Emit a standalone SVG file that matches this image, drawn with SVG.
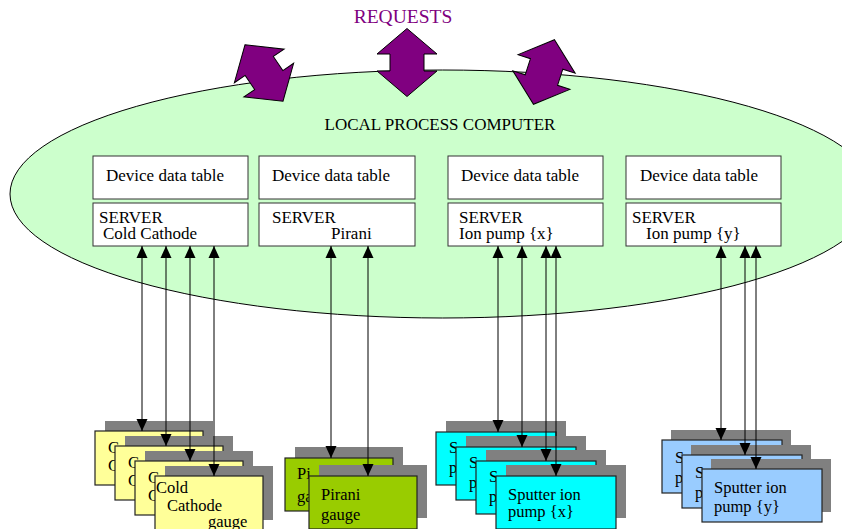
<svg xmlns="http://www.w3.org/2000/svg" width="842" height="529" viewBox="0 0 842 529">
<defs>
<style>
text{font-family:"Liberation Serif","Times New Roman",serif;font-size:16.5px;fill:#000}
.t17{font-size:17px}
.req{fill:#800080;font-size:19.5px}
.box{fill:#fff;stroke:#333;stroke-width:1}
.sh{fill:#808080}
.card{stroke:#222;stroke-width:1.2}
.cc{fill:#ffff99}
.pi{fill:#99cc00}
.ipx{fill:#00ffff}
.ipy{fill:#99ccff}
.big{fill:#800080;stroke:#000;stroke-width:1}
.con{stroke:#000;stroke-width:1;fill:none;marker-start:url(#ah);marker-end:url(#ah)}
</style>
<marker id="ah" viewBox="0 0 12 12" refX="12" refY="6" markerWidth="12" markerHeight="12" markerUnits="userSpaceOnUse" orient="auto-start-reverse"><path d="M0,0.5 L12,6 L0,11.5 Z" fill="#000"/></marker>
<path id="dbl" d="M0,-34 L30,-8.5 L17,-8.5 L17,8.5 L30,8.5 L0,34 L-30,8.5 L-17,8.5 L-17,-8.5 L-30,-8.5 Z"/>
</defs>
<rect width="842" height="529" fill="#fff"/>
<g id="lpc">
<ellipse cx="442.5" cy="194" rx="432.5" ry="124" fill="#ccffcc" stroke="#000" stroke-width="1"/>
<text class="t17" x="440" y="130" text-anchor="middle">LOCAL PROCESS COMPUTER</text>
</g>
<g id="requests">
<text class="req" x="403" y="23" text-anchor="middle">REQUESTS</text>
<use href="#dbl" class="big" transform="translate(264,73) rotate(-34)"/>
<use href="#dbl" class="big" transform="translate(407,62.5)"/>
<use href="#dbl" class="big" transform="translate(544,72) rotate(18)"/>
</g>
<g id="srv-cc">
<rect class="box" x="93" y="156" width="155" height="43"/>
<rect class="box" x="93" y="203" width="155" height="43"/>
<text class="t17" x="106" y="181">Device data table</text>
<text class="t17" x="99" y="223">SERVER</text>
<text class="t17" x="103" y="239">Cold Cathode</text>
</g>
<g id="srv-pi">
<rect class="box" x="259" y="156" width="156" height="43"/>
<rect class="box" x="259" y="203" width="156" height="43"/>
<text class="t17" x="272" y="181">Device data table</text>
<text class="t17" x="272" y="223">SERVER</text>
<text class="t17" x="331" y="239">Pirani</text>
</g>
<g id="srv-ipx">
<rect class="box" x="448" y="156" width="155" height="43"/>
<rect class="box" x="448" y="203" width="155" height="43"/>
<text class="t17" x="461" y="181">Device data table</text>
<text class="t17" x="459" y="223">SERVER</text>
<text class="t17" x="459" y="239">Ion pump {x}</text>
</g>
<g id="srv-ipy">
<rect class="box" x="626" y="156" width="155" height="43"/>
<rect class="box" x="626" y="203" width="155" height="43"/>
<text class="t17" x="640" y="181">Device data table</text>
<text class="t17" x="632" y="223">SERVER</text>
<text class="t17" x="646" y="239">Ion pump {y}</text>
</g>
<g id="dev-cc">
<g id="cc1"><rect class="sh" x="105" y="421" width="108" height="54"/><rect class="card cc" x="95" y="431" width="108" height="54"/><text x="108" y="453">C</text><text x="108" y="471">C</text></g>
<g id="cc2"><rect class="sh" x="125" y="436" width="108" height="54"/><rect class="card cc" x="115" y="446" width="108" height="54"/><text x="128" y="468">C</text><text x="128" y="486">C</text></g>
<g id="cc3"><rect class="sh" x="145" y="451" width="108" height="54"/><rect class="card cc" x="135" y="461" width="108" height="54"/><text x="148" y="483">C</text><text x="148" y="501">C</text></g>
<g id="cc4"><rect class="sh" x="165" y="466" width="108" height="54"/><rect class="card cc" x="155" y="476" width="108" height="54"/><text x="156" y="493">Cold</text><text x="167" y="511">Cathode</text><text x="208" y="527">gauge</text></g>
</g>
<g id="dev-pi">
<g id="pi1"><rect class="sh" x="295" y="447" width="108" height="53"/><rect class="card pi" x="285" y="458" width="108" height="53"/><text x="297" y="479">Pi</text><text x="297" y="502">ga</text></g>
<g id="pi2"><rect class="sh" x="319" y="465" width="108" height="53"/><rect class="card pi" x="309" y="476" width="108" height="53"/><text x="321" y="500">Pirani</text><text x="321" y="520">gauge</text></g>
</g>
<g id="dev-ipx">
<g id="ipx1"><rect class="sh" x="446" y="421" width="120" height="53"/><rect class="card ipx" x="436" y="432" width="120" height="53"/><text x="449" y="453">S</text><text x="449" y="473">p</text></g>
<g id="ipx2"><rect class="sh" x="466" y="436" width="120" height="53"/><rect class="card ipx" x="456" y="447" width="120" height="53"/><text x="469" y="468">S</text><text x="469" y="488">p</text></g>
<g id="ipx3"><rect class="sh" x="486" y="450" width="120" height="53"/><rect class="card ipx" x="476" y="461" width="120" height="53"/><text x="489" y="482">S</text><text x="489" y="502">p</text></g>
<g id="ipx4"><rect class="sh" x="506" y="465" width="120" height="53"/><rect class="card ipx" x="496" y="476" width="120" height="53"/><text x="508" y="500">Sputter ion</text><text x="508" y="517">pump {x}</text></g>
</g>
<g id="dev-ipy">
<g id="ipy1"><rect class="sh" x="671" y="430" width="120" height="53"/><rect class="card ipy" x="662" y="440" width="120" height="53"/><text x="675" y="463">S</text><text x="675" y="483">p</text></g>
<g id="ipy2"><rect class="sh" x="691" y="445" width="120" height="53"/><rect class="card ipy" x="682" y="455" width="120" height="53"/><text x="695" y="478">S</text><text x="695" y="498">p</text></g>
<g id="ipy3"><rect class="sh" x="711" y="459" width="120" height="53"/><rect class="card ipy" x="702" y="469" width="120" height="53"/><text x="714" y="493">Sputter ion</text><text x="714" y="512">pump {y}</text></g>
</g>
<g id="connectors">
<path class="con" d="M142,246 V431"/>
<path class="con" d="M166,246 V446"/>
<path class="con" d="M190,246 V461"/>
<path class="con" d="M214,246 V476"/>
<path class="con" d="M331,246 V458"/>
<path class="con" d="M368,246 V476"/>
<path class="con" d="M498,246 V432"/>
<path class="con" d="M522,246 V447"/>
<path class="con" d="M546,246 V461"/>
<path class="con" d="M556,246 V476"/>
<path class="con" d="M721,246 V440"/>
<path class="con" d="M745,246 V455"/>
<path class="con" d="M756,246 V469"/>
</g>
</svg>
